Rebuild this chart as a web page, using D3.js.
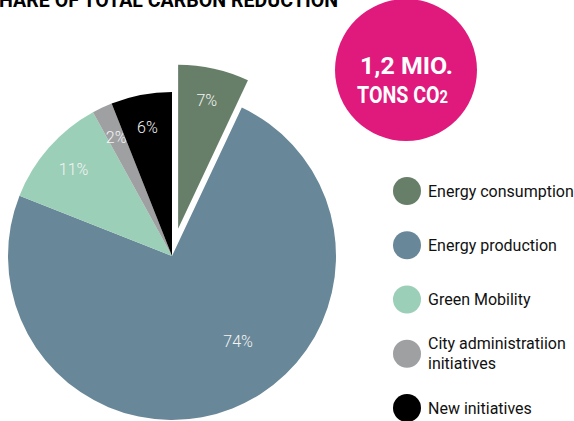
<!DOCTYPE html>
<html>
<head>
<meta charset="utf-8">
<script src="https://cdn.jsdelivr.net/npm/d3@7"></script>
<style>
    html, body { margin: 0; padding: 0; background: #fff; overflow: hidden; }
    svg { display: block; }
    text { font-family: Roboto, "Liberation Sans", sans-serif; }
</style>
</head>
<body>
<svg id="chart" width="574" height="421"></svg>
<script>
const categories = ["Energy consumption", "Energy production", "Green Mobility", "City administratiion initiatives", "New initiatives"];
const legendLines = [["Energy consumption"], ["Energy production"], ["Green Mobility"], ["City administratiion", "initiatives"], ["New initiatives"]];
const shares = [7, 74, 11, 2, 6];
const colors = ["#677f68", "#688798", "#9bcfb8", "#9fa0a2", "#000000"];
const titleText = "SHARE OF TOTAL CARBON REDUCTION";
const badgeLines = ["1,2 MIO.", "TONS CO"];

const svg = d3.select("#chart");
const cx = 172, cy = 256, radius = 164;
const explode = 28;

// title, cut off at top like the original crop
svg.append("text")
    .attr("x", -13)
    .attr("y", 7)
    .attr("textLength", 351)
    .attr("lengthAdjust", "spacingAndGlyphs")
    .attr("font-size", "21px")
    .attr("font-weight", "bold")
    .attr("fill", "#000")
    .text(titleText);

const pie = d3.pie().sort(null).value(d => d)(shares);
const arc = d3.arc().innerRadius(0).outerRadius(radius);
const labelArc = d3.arc().innerRadius(radius * 0.8).outerRadius(radius * 0.8);

const g = svg.append("g").attr("transform", `translate(${cx},${cy})`);

function offset(d, i) {
    if (i !== 0) return [0, 0];
    const mid = (d.startAngle + d.endAngle) / 2;
    return [Math.sin(mid) * explode, -Math.cos(mid) * explode];
}

const slices = g.selectAll("g.slice")
    .data(pie)
    .enter().append("g")
    .attr("class", "slice")
    .attr("transform", (d, i) => `translate(${offset(d, i)})`);

slices.append("path")
    .attr("d", arc)
    .attr("fill", (d, i) => colors[i]);

slices.append("text")
    .attr("transform", (d, i) => {
        let c;
        if (d.data === d3.max(shares)) {
            // big slice label sits a bit further round, like Excel's best fit
            const a = d3.arc().innerRadius(radius * 0.66).outerRadius(radius * 0.66)
                .startAngle(d.startAngle - 0.28).endAngle(d.endAngle - 0.28);
            c = a.centroid();
        } else {
            c = labelArc.centroid(d);
        }
        return `translate(${c})`;
    })
    .attr("dy", "0.35em")
    .attr("text-anchor", "middle")
    .attr("fill", "#f4f4f4")
    .attr("font-size", "16px")
    .attr("font-weight", 300)
    .text(d => d.data + "%");

// badge
const badge = svg.append("g").attr("transform", "translate(406,70)");
badge.append("circle").attr("r", 71).attr("fill", "#e0197d");
badge.append("text")
    .attr("x", -46)
    .attr("y", 4)
    .attr("textLength", 93)
    .attr("lengthAdjust", "spacingAndGlyphs")
    .attr("font-size", "24px")
    .attr("font-weight", "bold")
    .attr("fill", "#fff")
    .text(badgeLines[0]);
const t2 = badge.append("text")
    .attr("x", -49)
    .attr("y", 33)
    .attr("textLength", 91)
    .attr("lengthAdjust", "spacingAndGlyphs")
    .attr("font-size", "24px")
    .attr("font-weight", "bold")
    .attr("fill", "#fff");
t2.append("tspan").text(badgeLines[1]);
t2.append("tspan").attr("font-size", "18px").text("2");

// legend
const legendY = d3.scalePoint().domain(categories).range([191, 408]);
const legend = svg.append("g");
const items = legend.selectAll("g")
    .data(categories)
    .enter().append("g")
    .attr("transform", (d, i) => `translate(407,${legendY(d)})`);

items.append("circle").attr("r", 14).attr("fill", (d, i) => colors[i]);
items.each(function (d, i) {
    const lines = legendLines[i];
    const t = d3.select(this).append("text")
        .attr("font-size", "16px")
        .attr("fill", "#111");
    lines.forEach((ln, k) => {
        t.append("tspan")
            .attr("x", 21)
            .attr("y", (k - (lines.length - 1) / 2) * 20)
            .attr("dy", "0.35em")
            .text(ln);
    });
});
</script>
</body>
</html>
